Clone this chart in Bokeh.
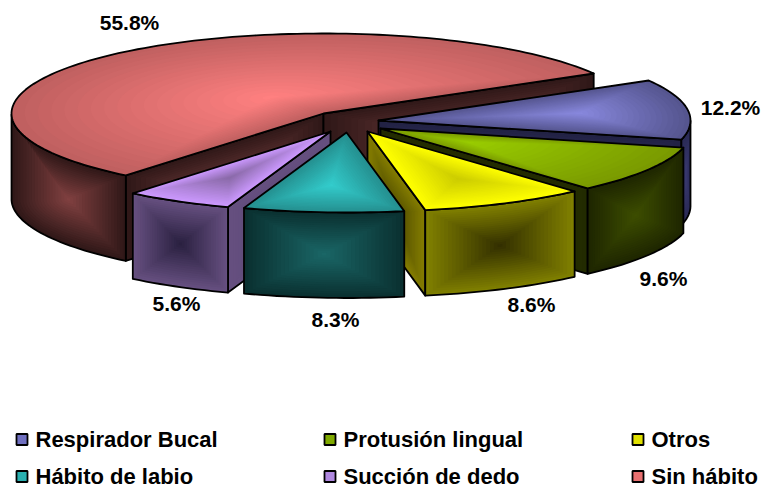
import math
from bokeh.plotting import figure
from bokeh.models import Range1d
from bokeh.core.properties import value
from bokeh.embed import file_html
from bokeh.resources import INLINE

# ---- data ----
categories = ["Respirador Bucal", "Protusión lingual", "Otros",
              "Hábito de labio", "Succión de dedo", "Sin hábito"]
percent = [12.2, 9.6, 8.6, 8.3, 5.6, 55.8]

# ---- layout (page pixels) ----
START = 30.0
A, B, DEPTH = 312.0, 80.0, 85.5
TIPS = [(378, 120), (380, 128), (367, 131), (346, 132), (330, 131), (323, 113)]
PULL = [0.0, 0.5, 0.0, 0.0, 0.0, 0.3]
LABEL_POS = [(730, 107), (663, 278), (531, 304), (335, 319), (176, 303), (129, 22)]
LEG_X = [16, 324, 632, 16, 324, 632]
LEG_Y = [439, 439, 439, 476, 476, 476]
ORDER = [5, 0, 1, 2, 4, 3]

# ---- styles: (edge, centre) ----
TOP = [("#55558F", "#8888DD"), ("#7A9A00", "#99CC00"), ("#FFFF00", "#CCCC00"),
       ("#259090", "#33CCCC"), ("#CC99FF", "#8A6AA8"), ("#C06060", "#FF8080")]
WALL = [("#2A2A55", "#3A3A70"), ("#1E2600", "#3D4D00"), ("#808000", "#332F00"),
        ("#0A3030", "#1A6666"), ("#665080", "#2A2040"), ("#301818", "#804040")]
CUT = [("#222244", "#333366"), ("#222B00", "#2E3A00"), ("#857D00", "#4D4A00"),
       ("#0A3030", "#1A6666"), ("#665080", "#5A4575"), ("#301818", "#6E3A3A")]
SWATCH = ["#7070C0", "#80AA00", "#E0E000", "#2AB0B0", "#B088E0", "#E87070"]
LAYERS = 20
FONT = value("Liberation Sans")


def mix(c1, c2, t):
    a = [int(c1[i:i + 2], 16) for i in (1, 3, 5)]
    b = [int(c2[i:i + 2], 16) for i in (1, 3, 5)]
    return "#%02x%02x%02x" % tuple(round(x + (y - x) * t) for x, y in zip(a, b))


def centroid(poly):
    s = cx = cy = 0.0
    for (x0, y0), (x1, y1) in zip(poly, poly[1:] + poly[:1]):
        k = x0 * y1 - x1 * y0
        s += k
        cx += (x0 + x1) * k
        cy += (y0 + y1) * k
    return (cx / (3 * s), cy / (3 * s))


p = figure(width=766, height=488, toolbar_location=None, output_backend="svg",
           x_range=Range1d(0, 766), y_range=Range1d(488, 0), min_border=0)
p.axis.visible = False
p.grid.visible = False
p.outline_line_color = None
p.background_fill_color = "white"


def face(poly, colors, focus=None):
    fx, fy = focus or centroid(poly)
    xs, ys, fc = [], [], []
    for i in range(LAYERS):
        t = i / (LAYERS - 1)
        s = 1 - t * 0.97
        xs.append([fx + (x - fx) * s for x, _ in poly])
        ys.append([fy + (y - fy) * s for _, y in poly])
        fc.append(mix(colors[0], colors[1], t))
    p.patches(xs, ys, fill_color=fc, line_color=None)
    p.patch([x for x, _ in poly], [y for _, y in poly], fill_color=None,
            line_color="black", line_width=1.8, line_join="round")


def pt(tip, deg):
    r = math.radians(deg)
    return (tip[0] + A * math.cos(r), tip[1] - B * math.sin(r))


def down(q):
    return (q[0], q[1] + DEPTH)


# angular limits, clockwise from START
total = sum(percent)
limits, a = [], START
for v in percent:
    limits.append((a, a - v / total * 360))
    a = limits[-1][1]

for i in ORDER:
    a1, a2 = limits[i]
    tip = TIPS[i]
    n = max(6, int((a1 - a2) / 1.5))
    arc = [pt(tip, a1 + (a2 - a1) * k / n) for k in range(n + 1)]
    top = [tuple(tip)] + arc

    # straight cut faces that turn towards the viewer
    if math.sin(math.radians(a1 + 90)) < 0:
        q = pt(tip, a1)
        face([tuple(tip), q, down(q), down(tip)], CUT[i])
    if math.sin(math.radians(a2 - 90)) < 0:
        q = pt(tip, a2)
        face([tuple(tip), q, down(q), down(tip)], CUT[i])

    # rim: the part of the arc on the front half
    front = []
    for k in range(n + 1):
        d = a1 + (a2 - a1) * k / n
        if math.sin(math.radians(d)) <= 0.0:
            front.append(pt(tip, d))
    if len(front) > 1:
        face(front + [down(q) for q in reversed(front)], WALL[i])

    c = centroid(top)
    focus = (c[0] + (tip[0] - c[0]) * PULL[i], c[1] + (tip[1] - c[1]) * PULL[i])
    face(top, TOP[i], focus)

# data labels
p.text([q[0] for q in LABEL_POS], [q[1] for q in LABEL_POS],
       text=["%.1f%%" % v for v in percent], text_font=FONT, text_font_style="bold",
       text_font_size="21px", text_color="black", text_align="center",
       text_baseline="middle")

# legend
p.quad(left=LEG_X, right=[x + 11 for x in LEG_X],
       top=[y - 5.5 for y in LEG_Y], bottom=[y + 5.5 for y in LEG_Y],
       fill_color=SWATCH, line_color="black", line_width=1.8)
p.text([x + 19 for x in LEG_X], LEG_Y, text=categories, text_font=FONT,
       text_font_style="bold", text_font_size="22px", text_color="black",
       text_align="left", text_baseline="middle")

open("out.html", "w").write(file_html(p, INLINE))
